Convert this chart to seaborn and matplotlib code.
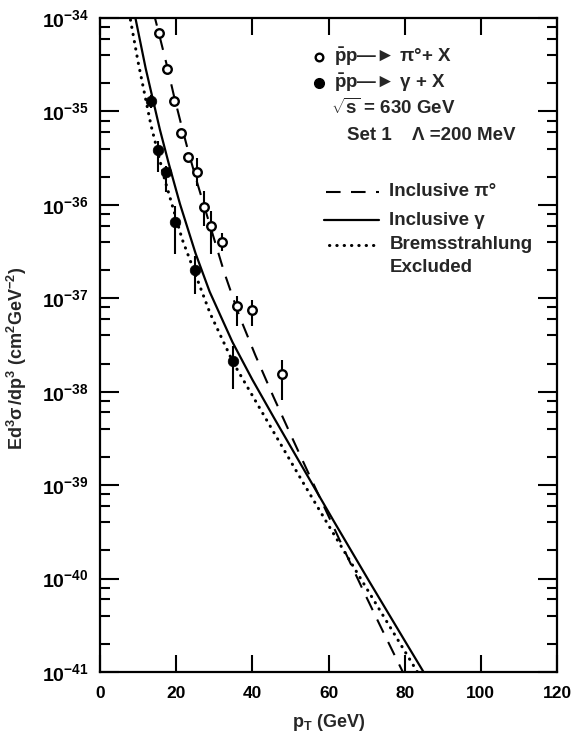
import numpy as np
import pandas as pd
import matplotlib
matplotlib.use("Agg")
import matplotlib.pyplot as plt
import matplotlib.ticker as mticker
import seaborn as sns

# ---------------- data ----------------
# pbar p -> pi0 + X  (open circles)
pi0_pt = [15.5, 17.7, 19.4, 21.2, 23.2, 25.5, 27.3, 29.1, 32.1, 36.1, 39.8, 47.7]
pi0_val = [6.95e-35, 2.85e-35, 1.30e-35, 5.85e-36, 3.22e-36, 2.24e-36,
           9.4e-37, 5.9e-37, 3.98e-37, 8.2e-38, 7.45e-38, 1.55e-38]
pi0_lo = [6.95e-35, 2.85e-35, 1.30e-35, 5.85e-36, 3.22e-36, 1.58e-36,
          5.9e-37, 3.0e-37, 3.2e-37, 5.1e-38, 5.1e-38, 8.1e-39]
pi0_hi = [6.95e-35, 2.85e-35, 1.30e-35, 5.85e-36, 3.22e-36, 3.17e-36,
          1.40e-36, 8.5e-37, 5.0e-37, 1.07e-37, 9.5e-38, 2.2e-38]

# pbar p -> gamma + X  (filled circles)
gam_pt = [13.5, 15.2, 17.2, 19.7, 24.9, 34.9]
gam_val = [1.29e-35, 3.83e-36, 2.26e-36, 6.6e-37, 2.0e-37, 2.14e-38]
gam_lo = [1.10e-35, 2.25e-36, 1.37e-36, 2.96e-37, 1.10e-37, 1.06e-38]
gam_hi = [1.50e-35, 4.80e-36, 2.62e-36, 9.75e-37, 2.84e-37, 3.10e-38]

# theory curves (log10 of the cross section)
pic_pt = [14.0, 15.5, 17.7, 19.4, 21.2, 23.2, 25.5, 28.0, 32.6, 36.5, 40.8,
          45.5, 50.3, 55.4, 60.0, 64.2, 68.8, 73.4, 78.2, 80.0]
pic_log = [-33.93, -34.17, -34.53, -34.83, -35.12, -35.43, -35.76, -36.10,
           -36.72, -37.18, -37.61, -38.05, -38.48, -38.93, -39.33, -39.70,
           -40.10, -40.49, -40.89, -41.04]

gamc_pt = [9.0, 12.0, 15.7, 18.0, 21.0, 25.1, 28.8, 34.8, 40.0, 45.7, 52.5,
           61.6, 70.7, 79.8, 85.7]
gamc_log = [-33.94, -34.54, -35.19, -35.55, -35.99, -36.52, -36.93, -37.47,
            -37.87, -38.28, -38.76, -39.40, -40.03, -40.65, -41.05]

brem_pt = [8.0, 10.0, 13.4, 17.0, 21.6, 28.9, 35.0, 44.0, 53.0, 60.0, 68.0,
           75.0, 83.5]
brem_log = [-34.02, -34.47, -35.15, -35.73, -36.37, -37.16, -37.69, -38.32,
            -38.95, -39.43, -39.97, -40.44, -41.01]

x_ticks = [0, 20, 40, 60, 80, 100, 120]
y_decades = [-41, -40, -39, -38, -37, -36, -35, -34]

legend_markers = [r"$\bar{p}$p" + "\u2014\u25BA \u03C0\u00B0+ X",
                  r"$\bar{p}$p" + "\u2014\u25BA \u03B3 + X"]
legend_info = [r"$\sqrt{s}$ = 630 GeV", "Set 1    \u039B =200 MeV"]
legend_lines = ["Inclusive \u03C0\u00B0", "Inclusive \u03B3", "Bremsstrahlung", "Excluded"]

# ---------------- style ----------------
sns.set_theme(style="ticks")
plt.rcParams["font.family"] = ["Liberation Sans", "DejaVu Sans"]
plt.rcParams["font.weight"] = "bold"
plt.rcParams["mathtext.fontset"] = "custom"
plt.rcParams["mathtext.rm"] = "Liberation Sans:bold"
plt.rcParams["mathtext.bf"] = "Liberation Sans:bold"
plt.rcParams["mathtext.it"] = "Liberation Sans:bold"
plt.rcParams["mathtext.sf"] = "Liberation Sans:bold"
plt.rcParams["mathtext.default"] = "bf"

fig = plt.figure(figsize=(5.73, 7.42), dpi=100)
ax = fig.add_axes([100 / 573, 0.0943, 457 / 573, 0.8814])
ax.set_yscale("log")

pic_df = pd.DataFrame({"pt": pic_pt, "val": 10.0 ** np.array(pic_log)})
gamc_df = pd.DataFrame({"pt": gamc_pt, "val": 10.0 ** np.array(gamc_log)})
brem_df = pd.DataFrame({"pt": brem_pt, "val": 10.0 ** np.array(brem_log)})

sns.lineplot(data=pic_df, x="pt", y="val", ax=ax, color="black", lw=1.5,
             linestyle=(0, (7, 5)), estimator=None, sort=False)
sns.lineplot(data=gamc_df, x="pt", y="val", ax=ax, color="black", lw=1.6,
             estimator=None, sort=False)
sns.lineplot(data=brem_df, x="pt", y="val", ax=ax, color="black", lw=2.2,
             linestyle=(0, (0.1, 2.3)), dash_capstyle="round",
             estimator=None, sort=False)

pi0_v = np.array(pi0_val)
gam_v = np.array(gam_val)
ax.errorbar(pi0_pt, pi0_v, yerr=[pi0_v - np.array(pi0_lo), np.array(pi0_hi) - pi0_v],
            fmt="none", ecolor="black", elinewidth=1.5, capsize=0, zorder=3)
ax.errorbar(gam_pt, gam_v, yerr=[gam_v - np.array(gam_lo), np.array(gam_hi) - gam_v],
            fmt="none", ecolor="black", elinewidth=1.5, capsize=0, zorder=3)

sns.scatterplot(x=pi0_pt, y=pi0_val, ax=ax, marker="o", s=38,
                facecolor="white", edgecolor="black", linewidth=1.7, zorder=4)
sns.scatterplot(x=gam_pt, y=gam_val, ax=ax, marker="o", s=58,
                color="black", edgecolor="black", linewidth=0.5, zorder=4)

# ---------------- axes ----------------
ax.set_xlim(0, 120)
ax.set_ylim(1e-41, 1e-34)
ax.set_xticks(x_ticks)
ax.set_xticklabels([str(t) for t in x_ticks], fontsize=12.5, fontweight="bold")
ax.yaxis.set_major_locator(mticker.FixedLocator([10.0 ** d for d in y_decades]))
ax.yaxis.set_major_formatter(mticker.FuncFormatter(
    lambda v, p: r"$10^{%d}$" % int(round(np.log10(v)))))
ax.yaxis.set_minor_locator(mticker.LogLocator(base=10, subs=[2, 4, 6, 8], numticks=50))
ax.yaxis.set_minor_formatter(mticker.NullFormatter())
ax.tick_params(axis="both", which="both", direction="in", top=True, right=True,
               width=1.5, color="black", labelcolor="black")
ax.tick_params(axis="x", which="major", length=12, pad=10, labelsize=12.5)
ax.tick_params(axis="y", which="major", length=14, pad=8, labelsize=14)
ax.tick_params(axis="y", which="minor", length=7)
for s in ax.spines.values():
    s.set_linewidth(1.6)
    s.set_color("black")

ax.set_xlabel(r"$p_{T}$ (GeV)", fontsize=13, fontweight="bold", labelpad=8)
ax.set_ylabel(r"$Ed^{3}\sigma\,/dp^{3}\ (cm^{2}GeV^{-2})$", fontsize=13,
              fontweight="bold")
ax.yaxis.set_label_coords(-0.155, 0.48)

# ---------------- legend-like annotations ----------------
T = ax.transAxes
ax.plot([0.480], [0.940], "o", transform=T, ms=5.5, mfc="white", mec="black", mew=1.7)
ax.plot([0.480], [0.901], "o", transform=T, ms=7, color="black")
ax.text(0.512, 0.940, legend_markers[0], transform=T, fontsize=13.5, va="center")
ax.text(0.512, 0.901, legend_markers[1], transform=T, fontsize=13.5, va="center")
ax.text(0.505, 0.862, legend_info[0], transform=T, fontsize=13.5, va="center",
        fontweight="bold")
ax.text(0.540, 0.821, legend_info[1], transform=T, fontsize=13.5, va="center",
        fontweight="bold")

ax.plot([0.495, 0.611], [0.734, 0.734], transform=T, color="black", lw=1.5,
        linestyle=(0, (7, 5)))
ax.plot([0.491, 0.611], [0.691, 0.691], transform=T, color="black", lw=1.6)
ax.plot([0.501, 0.611], [0.653, 0.653], transform=T, color="black", lw=2.2,
        linestyle=(0, (0.1, 2.3)), dash_capstyle="round")
for txt, yy in zip(legend_lines, [0.734, 0.691, 0.653, 0.618]):
    ax.text(0.633, yy, txt, transform=T, fontsize=13.5, va="center",
            fontweight="bold")

fig.savefig("out.png", dpi=100, facecolor="white")
